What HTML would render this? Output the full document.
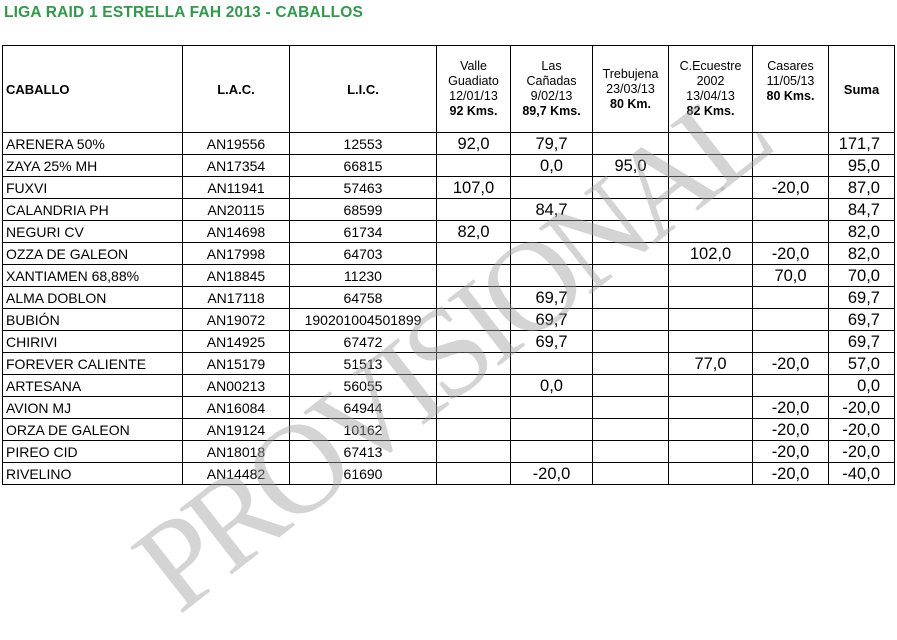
<!DOCTYPE html>
<html><head><meta charset="utf-8"><style>
body{margin:0;width:897px;height:493px;background:#fff;overflow:hidden;position:relative;font-family:"Liberation Sans",Arial,sans-serif;color:#000}
#title{position:absolute;left:4px;top:4px;font-size:15.5px;font-weight:bold;color:#2e9a4a;letter-spacing:0.2px}
table{position:absolute;left:2px;top:45px;border-collapse:collapse;table-layout:fixed}
td,th{border:1.5px solid #000;padding:0;overflow:hidden;white-space:nowrap}
th{height:86px;font-size:12.5px;font-weight:normal;line-height:15px;text-align:center}
th.b{font-weight:bold;font-size:13px}
th.l{text-align:left;padding-left:3px}
tbody tr{height:22px}
td{height:20.5px;font-size:14px;text-align:center;box-sizing:border-box;line-height:20px}
td.n{text-align:left;padding-left:3px}
td.v{font-size:16.5px}
td.s{font-size:16.5px;text-align:right;padding-right:14px}
#wm{position:absolute;left:450px;top:350px;transform:translate(-50%,-50%) rotate(-38deg);font-family:"Liberation Serif",serif;font-size:128px;color:rgba(160,160,160,0.45);letter-spacing:-9px;white-space:nowrap;pointer-events:none}
</style></head><body>
<div id="title">LIGA RAID 1 ESTRELLA FAH 2013 - CABALLOS</div>
<table>
<colgroup><col style="width:180px"><col style="width:107px"><col style="width:147px"><col style="width:74px"><col style="width:82px"><col style="width:76px"><col style="width:84px"><col style="width:76px"><col style="width:66px"></colgroup>
<tr>
<th class="b l">CABALLO</th>
<th class="b">L.A.C.</th>
<th class="b">L.I.C.</th>
<th>Valle<br>Guadiato<br>12/01/13<br><b>92 Kms.</b></th>
<th>Las<br>Cañadas<br>9/02/13<br><b>89,7 Kms.</b></th>
<th>Trebujena<br>23/03/13<br><b>80 Km.</b></th>
<th>C.Ecuestre<br>2002<br>13/04/13<br><b>82 Kms.</b></th>
<th>Casares<br>11/05/13<br><b>80 Kms.</b><br>&nbsp;</th>
<th class="b">Suma</th>
</tr>
<tbody id="tb"></tbody>
</table>
<div id="wm">PROVISIONAL</div>
<script>
const names=["ARENERA 50%","ZAYA 25% MH","FUXVI","CALANDRIA PH","NEGURI CV","OZZA DE GALEON","XANTIAMEN 68,88%","ALMA DOBLON","BUBIÓN","CHIRIVI","FOREVER CALIENTE","ARTESANA","AVION MJ","ORZA DE GALEON","PIREO CID","RIVELINO"];
const lac=["AN19556","AN17354","AN11941","AN20115","AN14698","AN17998","AN18845","AN17118","AN19072","AN14925","AN15179","AN00213","AN16084","AN19124","AN18018","AN14482"];
const lic=["12553","66815","57463","68599","61734","64703","11230","64758","190201004501899","67472","51513","56055","64944","10162","67413","61690"];
const valle=["92,0","","107,0","","82,0","","","","","","","","","","",""];
const canadas=["79,7","0,0","","84,7","","","","69,7","69,7","69,7","","0,0","","","","-20,0"];
const trebujena=["","95,0","","","","","","","","","","","","","",""];
const ecuestre=["","","","","","102,0","","","","","77,0","","","","",""];
const casares=["","","-20,0","","","-20,0","70,0","","","","-20,0","","-20,0","-20,0","-20,0","-20,0"];
const suma=["171,7","95,0","87,0","84,7","82,0","82,0","70,0","69,7","69,7","69,7","57,0","0,0","-20,0","-20,0","-20,0","-40,0"];
const tb=document.getElementById('tb');
names.forEach((n,i)=>{
  const tr=document.createElement('tr');
  
  
  const cells=[[n,'n','name'],[lac[i],'','lac'],[lic[i],'','lic'],[valle[i],'v','valle'],[canadas[i],'v','canadas'],[trebujena[i],'v','trebujena'],[ecuestre[i],'v','ecuestre'],[casares[i],'v','casares'],[suma[i],'s','suma']];
  cells.forEach(c=>{
    const td=document.createElement('td');
    td.textContent=c[0];
    if(c[1])td.className=c[1];
    
    
    tr.appendChild(td);
  });
  tb.appendChild(tr);
});
</script>
</body></html>
